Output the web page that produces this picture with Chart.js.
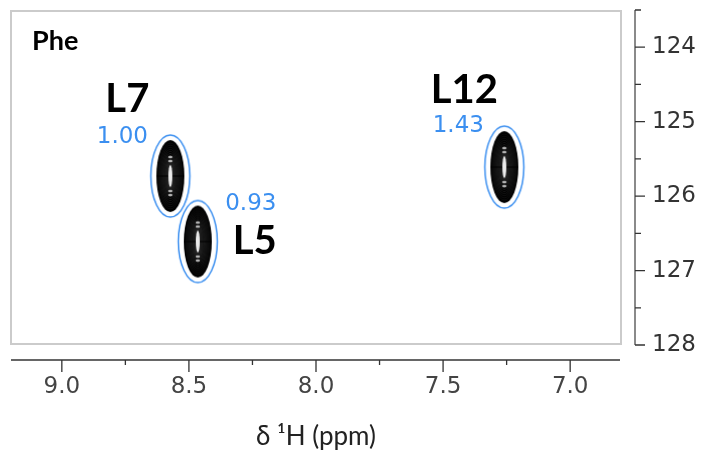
<!DOCTYPE html>
<html>
<head>
<meta charset="utf-8">
<script src="https://cdn.jsdelivr.net/npm/chart.js@4"></script>
<style>
  html, body { margin: 0; padding: 0; background: #fff; }
  #wrap { width: 703px; height: 453px; }
</style>
</head>
<body>
<div id="wrap"><canvas id="hsqcChart" width="703" height="453"></canvas></div>
<script>
// peaks (1H ppm, 15N ppm)
const peakNames = ['L7', 'L5', 'L12'];
const peakH = [8.573, 8.465, 7.259];
const peakN = [125.73, 126.61, 125.61];
const peakRatio = ['1.00', '0.93', '1.43'];

const xTicks = [9.0, 8.5, 8.0, 7.5, 7.0];
const xMinor = [8.75, 8.25, 7.75, 7.25];
const yTicks = [124, 125, 126, 127, 128];
const yMinor = [123.5, 124.5, 125.5, 126.5, 127.5];

// label offsets from the peak centre, in px: [name dx, name dy, ratio dx, ratio dy]
const labelOffsets = [
  [-43, -64, -48, -33],
  [57, 12, 53, -32],
  [-40, -64, -46, -35]
];

const blue = '#3b8ff0';
const tickColor = '#333';

function makePeakImage() {
  // one contour blob: black filled peak, grey contour rings, white top, blue circle round it
  let c = document.createElement('canvas');
  c.width = 44; c.height = 86;
  let g = c.getContext('2d');
  let cx = 22, cy = 43;
  g.fillStyle = '#000';
  g.beginPath(); g.ellipse(cx, cy, 14, 36, 0, 0, Math.PI * 2); g.fill();
  for (let k = 1; k < 12; k++) {
    g.strokeStyle = 'rgba(200,200,200,' + (0.10 + k * 0.025) + ')';
    g.lineWidth = 0.5;
    g.beginPath();
    g.ellipse(cx, cy, 13 * (1 - k / 12), 35 * (1 - k / 17), 0, 0, Math.PI * 2);
    g.stroke();
  }
  // dark band across the middle
  g.strokeStyle = 'rgba(0,0,0,0.7)';
  g.lineWidth = 1.5;
  g.beginPath(); g.moveTo(cx - 14, cy); g.lineTo(cx + 14, cy); g.stroke();
  // white top of the peak
  g.fillStyle = 'rgba(255,255,255,0.92)';
  g.beginPath(); g.ellipse(cx, cy, 2, 11, 0, 0, Math.PI * 2); g.fill();
  g.fillStyle = 'rgba(255,255,255,0.7)';
  [-19, -15, 15, 19].forEach(d => {
    g.beginPath(); g.ellipse(cx, cy + d, 2.2, 1.2, 0, 0, Math.PI * 2); g.fill();
  });
  g.strokeStyle = blue;
  g.lineWidth = 1.5;
  g.beginPath(); g.ellipse(cx, cy, 19.5, 41, 0, 0, Math.PI * 2); g.stroke();
  return c;
}

const axesPlugin = {
  id: 'nmrAxes',
  beforeDatasetsDraw(chart) {
    const ctx = chart.ctx;
    const a = chart.chartArea;
    const xs = chart.scales.x, ys = chart.scales.y;
    ctx.save();
    // frame round the spectrum
    ctx.strokeStyle = '#cbcbcb';
    ctx.lineWidth = 2;
    ctx.strokeRect(a.left, a.top + 1, a.right - a.left, a.bottom - a.top - 2);

    // 1H axis, detached below the frame
    let yx = a.bottom + 15;
    ctx.strokeStyle = '#333';
    ctx.lineWidth = 1.5;
    ctx.beginPath(); ctx.moveTo(a.left, yx); ctx.lineTo(a.right - 1, yx); ctx.stroke();
    ctx.lineWidth = 1.3;
    ctx.beginPath();
    xTicks.forEach(v => { let p = xs.getPixelForValue(v); ctx.moveTo(p, yx); ctx.lineTo(p, yx + 12); });
    xMinor.forEach(v => { let p = xs.getPixelForValue(v); ctx.moveTo(p, yx); ctx.lineTo(p, yx + 5); });
    ctx.stroke();

    // 15N axis, detached right of the frame
    let xy = a.right + 14;
    ctx.strokeStyle = '#8a8a8a';
    ctx.lineWidth = 2;
    ctx.beginPath(); ctx.moveTo(xy, a.top); ctx.lineTo(xy, a.bottom); ctx.stroke();
    ctx.strokeStyle = tickColor;
    ctx.lineWidth = 1.3;
    ctx.beginPath();
    yTicks.forEach(v => { let p = ys.getPixelForValue(v); ctx.moveTo(xy, p); ctx.lineTo(xy + 10, p); });
    yMinor.forEach(v => { let p = ys.getPixelForValue(v); ctx.moveTo(xy, p); ctx.lineTo(xy + 6, p); });
    ctx.stroke();
    ctx.restore();
  },
  afterDatasetsDraw(chart) {
    const ctx = chart.ctx;
    const a = chart.chartArea;
    const xs = chart.scales.x, ys = chart.scales.y;
    ctx.save();
    ctx.textBaseline = 'alphabetic';
    ctx.fillStyle = '#000';
    ctx.textAlign = 'left';
    ctx.font = 'bold 27px Lato';
    ctx.fillText('Phe', a.left + 21, a.top + 40);
    ctx.textAlign = 'center';
    for (let i = 0; i < peakNames.length; i++) {
      let px = xs.getPixelForValue(peakH[i]);
      let py = ys.getPixelForValue(peakN[i]);
      let o = labelOffsets[i];
      ctx.fillStyle = '#000';
      ctx.font = 'bold 40px Lato';
      ctx.fillText(peakNames[i], px + o[0], py + o[1]);
      ctx.fillStyle = blue;
      ctx.font = '23px "DejaVu Sans"';
      ctx.fillText(peakRatio[i], px + o[2], py + o[3]);
    }
    ctx.restore();
  }
};

const peakImg = makePeakImage();

const config = {
  type: 'scatter',
  data: {
    datasets: [{
      data: peakH.map((h, i) => ({ x: h, y: peakN[i] })),
      pointStyle: peakImg,
      pointRadius: 20,
      pointHoverRadius: 20
    }]
  },
  options: {
    responsive: false,
    animation: false,
    events: [],
    layout: { autoPadding: false, padding: { left: 11, top: 10, right: 0, bottom: 0 } },
    plugins: { legend: { display: false }, tooltip: { enabled: false } },
    scales: {
      x: {
        type: 'linear',
        reverse: true,
        min: 6.8,
        max: 9.2,
        afterBuildTicks: s => { s.ticks = xTicks.map(v => ({ value: v })); },
        afterFit: s => { s.height = 108; s.paddingLeft = 0; s.paddingRight = 0; },
        grid: { display: false, drawTicks: false },
        border: { display: false },
        ticks: {
          padding: 28,
          maxRotation: 0,
          color: '#444',
          font: { family: 'DejaVu Sans', size: 23 },
          callback: v => v.toFixed(1)
        },
        title: {
          display: true,
          text: 'δ ¹H (ppm)',
          color: '#222',
          font: { family: 'Lato', size: 26 },
          padding: { top: 0, bottom: 1 }
        }
      },
      y: {
        type: 'linear',
        position: 'right',
        reverse: true,
        min: 123.5,
        max: 128,
        afterBuildTicks: s => { s.ticks = yTicks.map(v => ({ value: v })); },
        afterFit: s => { s.width = 82; s.paddingTop = 0; s.paddingBottom = 0; },
        grid: { display: false, drawTicks: false },
        border: { display: false },
        ticks: {
          padding: 31,
          color: tickColor,
          font: { family: 'DejaVu Sans', size: 23 }
        }
      }
    }
  },
  plugins: [axesPlugin]
};

new Chart(document.getElementById('hsqcChart'), config);
</script>
</body>
</html>
